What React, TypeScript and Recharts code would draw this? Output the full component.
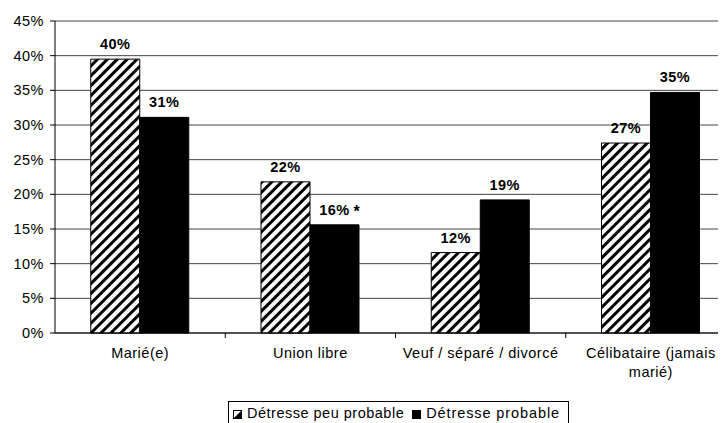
import { BarChart, Bar, XAxis, YAxis, CartesianGrid, LabelList } from 'recharts'

// Situation conjugale
const categories = ['Marié(e)', 'Union libre', 'Veuf / séparé / divorcé', 'Célibataire (jamais\nmarié)']
// % by distress level
const peuProbable = [39.5, 21.8, 11.6, 27.4]
const probable = [31.1, 15.6, 19.2, 34.7]
// significance marker next to the value label
const probableStar = [false, true, false, false]
const yTicks = [0, 5, 10, 15, 20, 25, 30, 35, 40, 45]

const seriesNames = { peu: 'Détresse peu probable', prob: 'Détresse probable' }

const data = categories.map((name, i) => ({ name, peu: peuProbable[i], prob: probable[i] }))

const W = 740
const H = 415
const M = { top: 13, right: 12, left: 0, bottom: 0 }
const Y_W = 47
const BAND = (W - M.left - M.right - Y_W) / categories.length
const FONT = 'Arial, "Liberation Sans", sans-serif'
const FS = 14.5
const LS = 0.5

function CatTick({ x, y, payload, index }: any) {
  const lines = String(payload.value).split('\n')
  return (
    <g>
      {index > 0 && <line x1={x - BAND / 2} x2={x - BAND / 2} y1={y} y2={y + 5} stroke="#000" />}
      <text x={x} y={y} textAnchor="middle" fontSize={FS} letterSpacing={LS} fill="#000" fontFamily={FONT}>
        {lines.map((l, k) => (
          <tspan key={k} x={x} y={y + 25 + k * 19}>{l}</tspan>
        ))}
      </text>
    </g>
  )
}

function makeValueLabel(stars?: boolean[]) {
  return (p: any) => {
    const cx = Number(p.x) + Number(p.width) / 2
    const top = Number(p.y)
    return (
      <g>
        <text x={cx} y={top - 10} textAnchor="middle" fontSize={FS} letterSpacing={LS} fontWeight="bold" fill="#000" fontFamily={FONT}>
          {`${Math.round(p.value)}%`}
        </text>
        {stars && stars[p.index] && (
          <text x={cx + 19} y={top - 8} fontSize={16} fontWeight="bold" fill="#000" fontFamily={FONT}>*</text>
        )}
      </g>
    )
  }
}

function LegendBox() {
  return (
    <div style={{
      position: 'absolute', left: 220, top: 393, width: 341, height: 40,
      border: '1px solid #000', background: '#fff', fontFamily: FONT, fontSize: FS, letterSpacing: LS,
      display: 'flex', alignItems: 'flex-start', paddingTop: 3, paddingLeft: 4, boxSizing: 'border-box',
    }}>
      <svg width={9} height={9} style={{ marginTop: 5, marginRight: 5 }}>
        <rect x={0.5} y={0.5} width={8} height={8} fill="#fff" stroke="#000" />
        <path d="M1 8 L8 1 L8 8 Z" fill="#000" />
      </svg>
      <span style={{ marginRight: 8 }}>{seriesNames.peu}</span>
      <svg width={9} height={9} style={{ marginTop: 5, marginRight: 5 }}>
        <rect x={0} y={0} width={9} height={9} fill="#000" />
      </svg>
      <span style={{ letterSpacing: 0.9 }}>{seriesNames.prob}</span>
    </div>
  )
}

export default function App() {
  return (
    <div style={{ width: 718, height: H, overflow: 'hidden', position: 'relative', background: '#fff' }}>
      <BarChart width={W} height={H} data={data} margin={M} barCategoryGap="21%" barGap={0}>
        <defs>
          <pattern id="hatch" patternUnits="userSpaceOnUse" width={7} height={7} patternTransform="rotate(45)">
            <rect width={7} height={7} fill="#fff" />
            <line x1={1.5} y1={0} x2={1.5} y2={7} stroke="#000" strokeWidth={3} />
          </pattern>
        </defs>
        <CartesianGrid vertical={false} stroke="#444" />
        <XAxis
          dataKey="name"
          interval={0}
          height={H - M.top - M.bottom - 312}
          tickSize={0}
          tickMargin={0}
          tickLine={false}
          axisLine={{ stroke: '#000' }}
          tick={<CatTick />}
        />
        <YAxis
          domain={[0, 45]}
          ticks={yTicks}
          width={Y_W}
          tickFormatter={(v: number) => `${v}%`}
          tickSize={5}
          tickMargin={6}
          axisLine={{ stroke: '#000' }}
          tickLine={{ stroke: '#000' }}
          tick={{ fill: '#000', fontSize: FS, fontFamily: FONT, letterSpacing: LS }}
        />
        <Bar dataKey="peu" name={seriesNames.peu} fill="url(#hatch)" stroke="#000" isAnimationActive={false}>
          <LabelList dataKey="peu" content={makeValueLabel()} />
        </Bar>
        <Bar dataKey="prob" name={seriesNames.prob} fill="#000" stroke="#000" isAnimationActive={false}>
          <LabelList dataKey="prob" content={makeValueLabel(probableStar)} />
        </Bar>
      </BarChart>
      <LegendBox />
    </div>
  )
}
